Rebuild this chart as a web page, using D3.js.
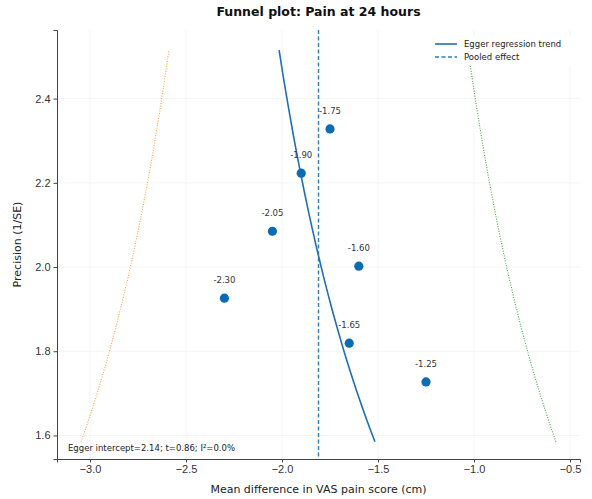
<!DOCTYPE html>
<html>
<head>
<meta charset="utf-8">
<script src="https://cdn.jsdelivr.net/npm/d3@7"></script>
<style>
  body { margin: 0; background: #fff; }
  svg { font-family: 'DejaVu Sans', sans-serif; }
  .tick text { fill: #333; font-size: 11px; }
  .tick line { stroke: #444; }
  .domain { stroke: #444; }
</style>
</head>
<body>
<svg id="chart" width="592" height="499"></svg>
<script>
// study effects (mean difference) and precision (1/SE)
const effects = [-2.30, -2.05, -1.90, -1.75, -1.60, -1.65, -1.25]
const precisions = [1.926, 2.085, 2.223, 2.328, 2.002, 1.819, 1.727]
const labels = ['-2.30', '-2.05', '-1.90', '-1.75', '-1.60', '-1.65', '-1.25']
const xTicks = [-3.0, -2.5, -2.0, -1.5, -1.0, -0.5]
const yTicks = [1.6, 1.8, 2.0, 2.2, 2.4]

const pooled = -1.81
const eggerIntercept = 2.14
const eggerSlope = -2.866
const precRange = [1.585, 2.515]

const svg = d3.select('#chart')
const margin = { top: 30, right: 12, bottom: 40, left: 57 }
const width = 592 - margin.left - margin.right
const height = 499 - margin.top - margin.bottom

const x = d3.scaleLinear().domain([-3.172, -0.448]).range([0, width])
const y = d3.scaleLinear().domain([1.544, 2.563]).range([height, 0])

const g = svg.append('g').attr('transform', `translate(${margin.left}, ${margin.top})`)

// grid
g.append('g').selectAll('line')
  .data(xTicks)
  .enter()
  .append('line')
  .attr('x1', d => x(d)).attr('x2', d => x(d))
  .attr('y1', 0).attr('y2', height)
  .attr('stroke', '#f1f1f1').attr('stroke-width', 0.8)
g.append('g').selectAll('line')
  .data(yTicks)
  .enter()
  .append('line')
  .attr('x1', 0).attr('x2', width)
  .attr('y1', d => y(d)).attr('y2', d => y(d))
  .attr('stroke', '#f1f1f1').attr('stroke-width', 0.8)

// funnel limits
const precSteps = d3.range(0, 41).map(i => precRange[0] + (precRange[1] - precRange[0]) * i / 40)
const curve = fn => d3.line().x(p => x(fn(p))).y(p => y(p))

g.append('path')
  .attr('d', curve(p => pooled - 1.96 / p)(precSteps))
  .attr('fill', 'none').attr('stroke', '#ff9f3a').attr('stroke-width', 1.1)
  .attr('stroke-dasharray', '1,1.5')
g.append('path')
  .attr('d', curve(p => pooled + 1.96 / p)(precSteps))
  .attr('fill', 'none').attr('stroke', '#3aa83a').attr('stroke-width', 1.1)
  .attr('stroke-dasharray', '1,1.5')

// egger trend
g.append('path')
  .attr('d', curve(p => eggerIntercept / p + eggerSlope)(precSteps))
  .attr('fill', 'none').attr('stroke', '#1f6fb2').attr('stroke-width', 1.6)

// pooled effect
g.append('line')
  .attr('x1', x(pooled)).attr('x2', x(pooled))
  .attr('y1', 0).attr('y2', height)
  .attr('stroke', '#2a7fc0').attr('stroke-width', 1.4)
  .attr('stroke-dasharray', '4,2.5')

// points
g.append('g').selectAll('circle')
  .data(effects)
  .enter()
  .append('circle')
  .attr('cx', d => x(d))
  .attr('cy', (d, i) => y(precisions[i]))
  .attr('r', 4.6)
  .attr('fill', '#0c6bb3')

g.append('g').selectAll('text')
  .data(effects)
  .enter()
  .append('text')
  .attr('x', d => x(d))
  .attr('y', (d, i) => y(precisions[i]) - 15)
  .attr('text-anchor', 'middle')
  .attr('font-size', 8.5)
  .attr('fill', '#333')
  .text((d, i) => labels[i])

// axes
g.append('g')
  .attr('transform', `translate(0, ${height})`)
  .call(d3.axisBottom(x).tickValues(xTicks).tickSize(3.5).tickPadding(3).tickFormat(d => d3.format('.1f')(d).replace('-', '\u2212')))
g.append('g')
  .call(d3.axisLeft(y).tickValues(yTicks).tickSize(3.5).tickPadding(3).tickFormat(d3.format('.1f')))

// annotation
g.append('text')
  .attr('x', 11).attr('y', height - 8)
  .attr('font-size', 8.5).attr('fill', '#222')
  .text('Egger intercept=2.14; t=0.86; I\u00b2=0.0%')

// legend
const lg = g.append('g').attr('transform', `translate(${width - 150}, 6)`)
lg.append('rect').attr('x', 0).attr('y', 0).attr('width', 148).attr('height', 30).attr('fill', '#fff').attr('opacity', 0.85)
lg.append('line').attr('x1', 5).attr('x2', 27).attr('y1', 8).attr('y2', 8)
  .attr('stroke', '#1f6fb2').attr('stroke-width', 1.6)
lg.append('line').attr('x1', 5).attr('x2', 27).attr('y1', 21).attr('y2', 21)
  .attr('stroke', '#2a7fc0').attr('stroke-width', 1.4).attr('stroke-dasharray', '4,2.5')
lg.append('text').attr('x', 34).attr('y', 11).attr('font-size', 8.5).attr('fill', '#222').text('Egger regression trend')
lg.append('text').attr('x', 34).attr('y', 24).attr('font-size', 8.5).attr('fill', '#222').text('Pooled effect')

// titles
svg.append('text')
  .attr('x', margin.left + width / 2).attr('y', 16)
  .attr('text-anchor', 'middle').attr('font-size', 12.5).attr('font-weight', 'bold').attr('fill', '#111')
  .text('Funnel plot: Pain at 24 hours')
svg.append('text')
  .attr('x', margin.left + width / 2).attr('y', 493)
  .attr('text-anchor', 'middle').attr('font-size', 11).attr('fill', '#222')
  .text('Mean difference in VAS pain score (cm)')
svg.append('text')
  .attr('transform', `translate(21, ${margin.top + height / 2}) rotate(-90)`)
  .attr('text-anchor', 'middle').attr('font-size', 11).attr('fill', '#222')
  .text('Precision (1/SE)')
</script>
</body>
</html>
